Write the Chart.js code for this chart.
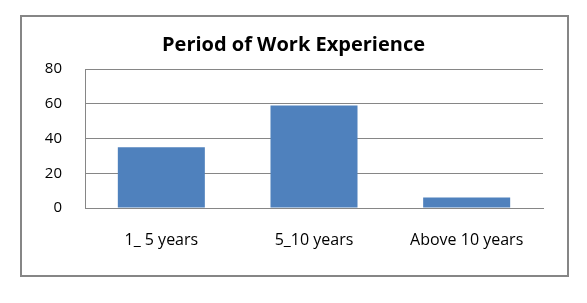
<!DOCTYPE html>
<html>
<head>
<meta charset="utf-8">
<script src="https://cdn.jsdelivr.net/npm/chart.js@4/dist/chart.umd.min.js"></script>
<style>
  html, body { margin: 0; padding: 0; background: #fff; }
  #wrap { position: absolute; left: 0; top: 0; width: 587px; height: 303px; }
</style>
</head>
<body>
<div id="wrap"><canvas id="c" width="587" height="303"></canvas></div>
<script>
const categories = ["1_ 5 years", "5_10 years", "Above 10 years"];
const values = [35, 59, 6];
const yTicks = [0, 20, 40, 60, 80];
const titleText = "Period of Work Experience";

const GRID = "#868686";
const FONT = "'Open Sans', 'Liberation Sans', sans-serif";

const framePlugin = {
  id: "frame",
  beforeDraw(chart) {
    const ctx = chart.ctx;
    ctx.save();
    ctx.fillStyle = "#fff";
    ctx.fillRect(0, 0, chart.width, chart.height);
    ctx.strokeStyle = GRID;
    ctx.lineWidth = 2;
    ctx.strokeRect(21, 16, 547, 260);
    ctx.restore();
  }
};

new Chart(document.getElementById("c"), {
  type: "bar",
  data: {
    labels: categories,
    datasets: [{
      data: values,
      backgroundColor: "#4F81BD",
      borderWidth: 0,
      categoryPercentage: 1,
      barPercentage: 0.57
    }]
  },
  options: {
    responsive: false,
    animation: false,
    devicePixelRatio: 1,
    layout: { padding: { left: 20, right: 20, top: 20, bottom: 20 } },
    plugins: {
      legend: { display: false },
      tooltip: { enabled: false },
      title: {
        display: true,
        text: titleText,
        color: "#000",
        font: { family: FONT, size: 20, weight: "bold" },
        padding: { top: 13, bottom: 12 }
      }
    },
    scales: {
      x: {
        grid: { display: false, drawTicks: false, tickLength: 0 },
        border: { display: true, color: GRID, width: 1 },
        ticks: { color: "#000", font: { family: FONT, size: 16 }, padding: 23, maxRotation: 0 },
        afterFit(s) { s.height = 75; }
      },
      y: {
        min: 0, max: 80,
        afterBuildTicks(s) { s.ticks = yTicks.map(v => ({ value: v })); },
        grid: { color: GRID, drawTicks: false, tickLength: 0 },
        border: { display: true, color: GRID, width: 1 },
        ticks: { color: "#000", font: { family: FONT, size: 15 }, padding: 23 },
        afterFit(s) { s.width = 65; }
      },
      y2: {
        position: "right",
        display: true,
        grid: { display: false, drawTicks: false },
        border: { display: false },
        ticks: { display: false },
        afterFit(s) { s.width = 24; }
      }
    }
  },
  plugins: [framePlugin]
});
</script>
</body>
</html>
